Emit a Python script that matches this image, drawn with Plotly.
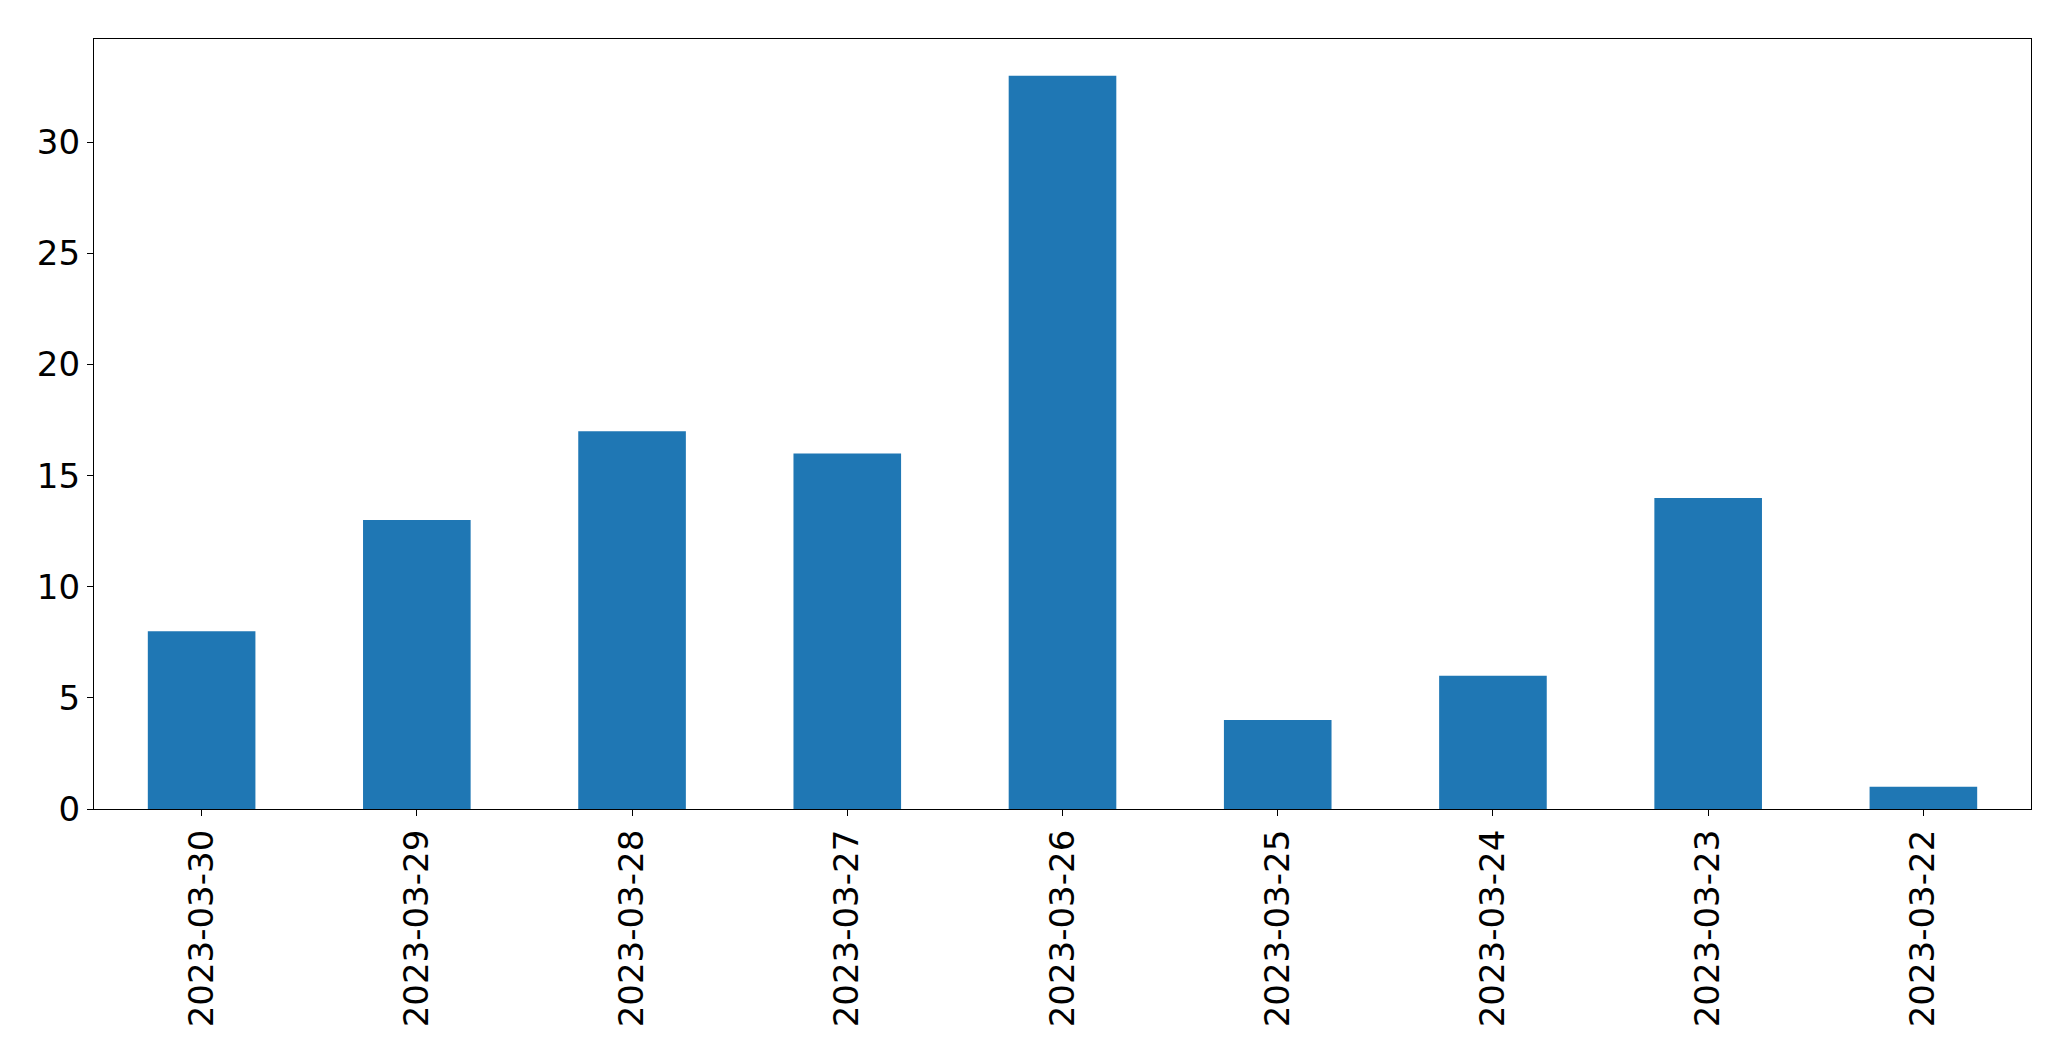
import plotly.graph_objects as go

dates = ["2023-03-30", "2023-03-29", "2023-03-28", "2023-03-27", "2023-03-26",
         "2023-03-25", "2023-03-24", "2023-03-23", "2023-03-22"]
counts = [8, 13, 17, 16, 33, 4, 6, 14, 1]
y_ticks = [0, 5, 10, 15, 20, 25, 30]

fig = go.Figure(go.Bar(x=dates, y=counts, marker_color="#1f77b4",
                       marker_line_width=0, width=0.5))

fig.update_layout(
    width=2063, height=1053,
    margin=dict(l=86, r=40, t=31, b=252, autoexpand=False),
    plot_bgcolor="white", paper_bgcolor="white",
    font=dict(family="DejaVu Sans", size=34, color="black"),
    showlegend=False,
)
fig.update_xaxes(
    type="category", range=[-0.5, 8.5], tickangle=-90,
    showline=True, mirror=True, linecolor="black", linewidth=1.3,
    ticks="outside", ticklen=6, tickwidth=1.3, tickcolor="black",
    showgrid=False, automargin=False, ticklabelstandoff=0,
)
fig.update_yaxes(
    range=[0, 34.65], tickvals=y_ticks,
    showline=True, mirror=True, linecolor="black", linewidth=1.3,
    ticks="outside", ticklen=6, tickwidth=1.3, tickcolor="black",
    showgrid=False, zeroline=False, automargin=False, ticklabelstandoff=0,
)
fig.write_html("out.html")
